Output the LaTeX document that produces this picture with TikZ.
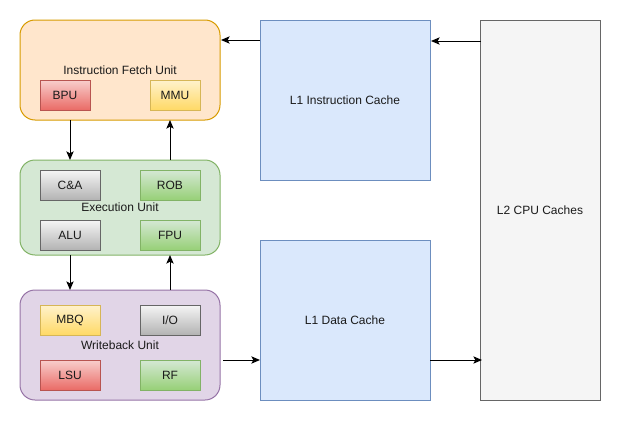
\documentclass[tikz,border=0pt]{standalone}
\usepackage{fontspec}
\setmainfont{Liberation Sans}
\usetikzlibrary{arrows.meta,calc}
\definecolor{ifuF}{HTML}{FFE6CC}\definecolor{ifuD}{HTML}{D79B00}
\definecolor{euF}{HTML}{D5E8D4}\definecolor{euD}{HTML}{82B366}
\definecolor{wuF}{HTML}{E1D5E7}\definecolor{wuD}{HTML}{9673A6}
\definecolor{l1F}{HTML}{DAE8FC}\definecolor{l1D}{HTML}{6C8EBF}
\definecolor{l2F}{HTML}{F5F5F5}\definecolor{l2D}{HTML}{666666}
\definecolor{redT}{HTML}{F8CECC}\definecolor{redB}{HTML}{EA6B66}\definecolor{redD}{HTML}{B85450}
\definecolor{yelT}{HTML}{FFF2CC}\definecolor{yelB}{HTML}{FFD966}\definecolor{yelD}{HTML}{D6B656}
\definecolor{grnT}{HTML}{D5E8D4}\definecolor{grnB}{HTML}{97D077}\definecolor{grnD}{HTML}{82B366}
\definecolor{gryT}{HTML}{F5F5F5}\definecolor{gryB}{HTML}{B3B3B3}\definecolor{gryD}{HTML}{666666}
\definecolor{txt}{HTML}{1A1A1A}
\begin{document}
\begin{tikzpicture}[x=0.75pt,y=-0.75pt,
  every node/.style={font=\fontsize{9}{11}\selectfont, text=txt, inner sep=0pt, outer sep=0pt},
  unit/.style={rectangle, rounded corners=11.25pt, line width=0.75pt, minimum width=150pt},
  box/.style={rectangle, line width=0.75pt},
  sub/.style={box, minimum height=22.5pt},
  redbox/.style={sub, draw=redD, top color=redT, bottom color=redB},
  yelbox/.style={sub, draw=yelD, top color=yelT, bottom color=yelB},
  grnbox/.style={sub, draw=grnD, top color=grnT, bottom color=grnB},
  grybox/.style={sub, draw=gryD, top color=gryT, bottom color=gryB},
  narrow/.style={minimum width=37.5pt},
  wide/.style={minimum width=45pt},
  cache/.style={box, draw=l1D, fill=l1F, minimum width=127.5pt, minimum height=120pt},
  conn/.style={line width=0.75pt, -{Stealth[length=6.5pt,width=5.5pt,inset=1.5pt]}}]
\useasboundingbox (0,0) rectangle (621,421);
% units
\node[unit, draw=ifuD, fill=ifuF, minimum height=75pt] (ifu) at (120,70) {Instruction Fetch Unit};
\node[unit, draw=euD, fill=euF, minimum height=71.25pt] (eu) at (120,207.5) {Execution Unit};
\node[unit, draw=wuD, fill=wuF, minimum height=82.5pt] (wu) at (120,345) {Writeback Unit};
% sub boxes
\node[redbox, narrow] (bpu) at (65,95) {BPU};
\node[yelbox, narrow] (mmu) at (175,95) {MMU};
\node[grybox, wide] (ca) at (70,185) {C\&A};
\node[grnbox, wide] (rob) at (170,185) {ROB};
\node[grybox, wide] (alu) at (70,235) {ALU};
\node[grnbox, wide] (fpu) at (170,235) {FPU};
\node[yelbox, wide] (mbq) at (70,320) {MBQ};
\node[grybox, wide] (io) at (170,320) {I/O};
\node[redbox, wide] (lsu) at (70,375) {LSU};
\node[grnbox, wide] (rf) at (170,375) {RF};
% caches
\node[cache] (l1i) at (345,100) {L1 Instruction Cache};
\node[cache] (l1d) at (345,320) {L1 Data Cache};
\node[box, draw=l2D, fill=l2F, minimum width=90pt, minimum height=285pt] (l2) at (540,210) {L2 CPU Caches};
% connectors
\draw[conn] ($(l1i.north west)+(0,20)$) -- ($(ifu.north east)+(1,20)$);
\draw[conn] ($(l2.north west)+(1,21)$) -- ($(l1i.north east)+(1,21)$);
\draw[conn] ($(ifu.south west)+(50,0)$) -- ($(eu.north west)+(50,0)$);
\draw[conn] ($(eu.north west)+(150,0)$) -- ($(ifu.south west)+(150,0)$);
\draw[conn] ($(eu.south west)+(50,0)$) -- ($(wu.north west)+(50,0)$);
\draw[conn] ($(wu.north west)+(150,0)$) -- ($(eu.south west)+(150,0)$);
\draw[conn] ($(wu.south east)+(3,-40)$) -- ($(l1d.south west)+(0,-40)$);
\draw[conn] ($(l1d.south east)+(0,-40)$) -- ($(l2.south west)+(2,-40)$);
\end{tikzpicture}
\end{document}
